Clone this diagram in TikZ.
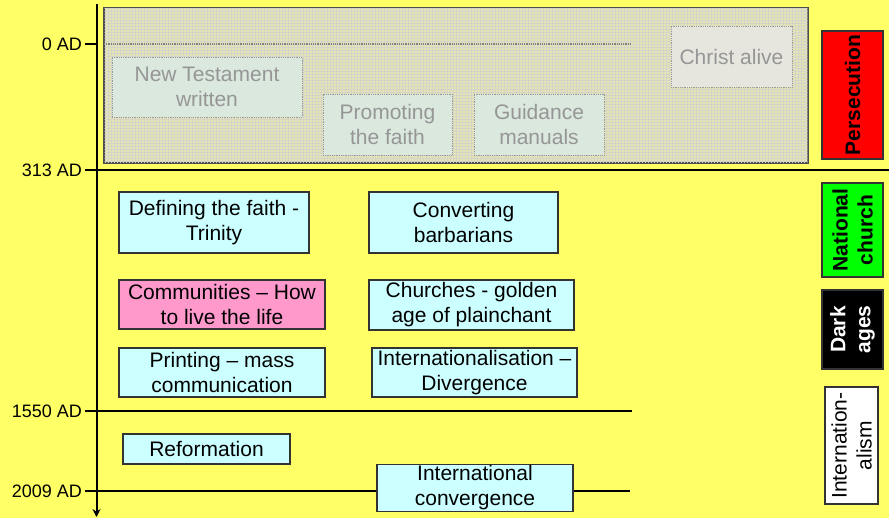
\documentclass[tikz,border=0pt]{standalone}
\usepackage{fontspec}
\setmainfont{Liberation Sans}
\usetikzlibrary{arrows.meta,patterns}
\definecolor{bg}{RGB}{255,255,102}
\definecolor{cyanbox}{RGB}{204,255,255}
\definecolor{pinkbox}{RGB}{255,153,204}
\definecolor{greyarea}{RGB}{228,228,180}
\definecolor{greygrid}{RGB}{212,212,200}
\definecolor{greyboxfill}{RGB}{218,232,222}
\definecolor{greyboxfill2}{RGB}{230,230,222}
\definecolor{greytext}{RGB}{150,150,150}
\definecolor{persred}{RGB}{255,0,0}
\definecolor{natgreen}{RGB}{0,255,0}
\tikzset{
  maintext/.style={font=\fontsize{21}{25}\selectfont, align=center, inner sep=1pt},
  cbox/.style={maintext, draw=black!80, line width=1.2pt, fill=cyanbox, rectangle},
  pbox/.style={cbox, fill=pinkbox},
  gbox/.style={maintext, draw=gray!80, densely dotted, line width=0.8pt, fill=greyboxfill, text=greytext},
  sidebox/.style={maintext, draw=black!80, line width=1.2pt, rotate=90, font=\fontsize{21}{25}\selectfont\bfseries},
  ticklabel/.style={font=\fontsize{18}{20}\selectfont, anchor=east, inner sep=0pt},
  tl/.style={line width=2pt, black}
}
\begin{document}
\begin{tikzpicture}[x=1pt,y=-1pt]
\fill[bg] (0,0) rectangle (889,518);
\useasboundingbox (0,0) rectangle (889,518);

% grey area
\path[draw=black!70, line width=1.2pt, fill=greyarea] (104,8) rectangle (808,163);
\path[pattern=grid, pattern color=greygrid] (104.6,8.6) rectangle (807.4,162.4);

% axis coordinates
\coordinate (atop) at (96.5,4);
\coordinate (abot) at (96.5,517);
\coordinate (t0) at (85,44);
\coordinate (t0a) at (96.5,44);
\coordinate (t0b) at (104,44);
\coordinate (t0e) at (630,44);
\coordinate (t313) at (85,170.5);
\coordinate (t313e) at (889,170.5);
\coordinate (t1550) at (85,411);
\coordinate (t1550e) at (632,411);
\coordinate (t2009) at (85,491);
\coordinate (t2009e) at (630,491);

\node[ticklabel] (l0) at (82,44) {0 AD};
\node[ticklabel] (l313) at (82,170.5) {313 AD};
\node[ticklabel] (l1550) at (82,411) {1550 AD};
\node[ticklabel] (l2009) at (82,491) {2009 AD};

\draw[tl] (t0) -- (t0a);
\draw[gray, densely dotted, line width=1.2pt] (t0b) -- (t0e);
\draw[tl] (t313) -- (t313e);
\draw[tl] (t1550) -- (t1550e);
\draw[tl] (t2009) -- (t2009e);
\draw[tl, -{Stealth[length=8pt,width=8pt]}] (atop) -- (abot);

% greyed boxes
\node[gbox, minimum width=190pt, minimum height=60pt] (nt) at (207,87) {New Testament\\written};
\node[gbox, minimum width=129pt, minimum height=61pt] (prom) at (387.5,124.5) {Promoting\\the faith};
\node[gbox, minimum width=130pt, minimum height=61pt] (guid) at (539,124.5) {Guidance\\manuals};
\node[gbox, fill=greyboxfill2, minimum width=121pt, minimum height=61pt] (christ) at (731.5,56.5) {Christ alive};

% main boxes
\node[cbox, minimum width=190pt, minimum height=61pt] (def) at (214,222.5) {Defining the faith -\\Trinity};
\node[cbox, minimum width=189pt, minimum height=61pt] (conv) at (463.5,222.5) {Converting\\barbarians};
\node[pbox, minimum width=206pt, minimum height=49pt] (comm) at (222,304.5) {Communities -- How\\to live the life};
\node[cbox, minimum width=205pt, minimum height=50pt] (church) at (471.5,305) {Churches - golden\\age of plainchant};
\node[cbox, minimum width=206pt, minimum height=49pt] (print) at (222,372.5) {Printing -- mass\\communication};
\node[cbox, minimum width=205pt, minimum height=49pt] (intdiv) at (474.5,372.5) {Internationalisation --\\Divergence};
\node[cbox, minimum width=167pt, minimum height=30pt] (ref) at (206.5,449) {Reformation};
\node[cbox, minimum width=196pt, minimum height=46pt] (intconv) at (475,488) {International\\convergence};

% side labels
\node[sidebox, fill=persred, minimum width=128pt, minimum height=61pt] (pers) at (852.5,95) {Persecution};
\node[sidebox, fill=natgreen, minimum width=94pt, minimum height=61pt] (nat) at (852.5,230) {National\\church};
\node[sidebox, fill=black, text=white, minimum width=79pt, minimum height=61pt] (dark) at (852.5,329.5) {Dark\\ages};
\node[sidebox, fill=white, font=\fontsize{21}{25}\selectfont, minimum width=117pt, minimum height=53pt] (intl) at (851.5,445.5) {Internation-\\alism};
\end{tikzpicture}
\end{document}
